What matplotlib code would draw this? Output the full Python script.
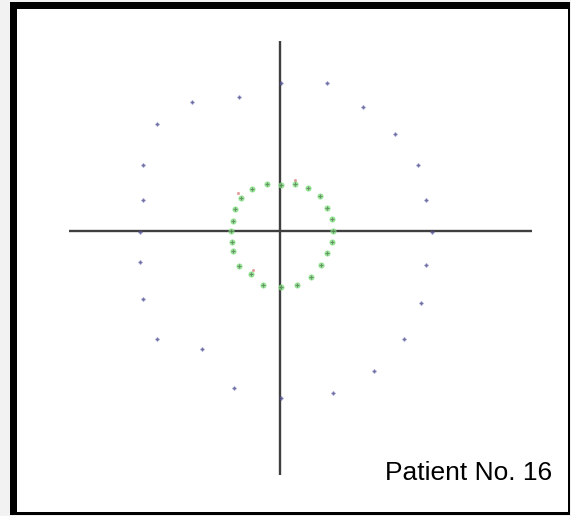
import numpy as np
import matplotlib.pyplot as plt
from matplotlib.patches import Rectangle

# outer test ring (blue), offsets from the fixation point
outer_x = [1, 47, -41, -88, 83, -123, 115, -137, 138, -137, 146, -140,
           152, -140, 146, -137, 141, -123, 124, -78, 94, -46, 53, 1]
outer_y = [148, 148, 134, 129, 124, 107, 97, 66, 66, 31, 31, -1,
           -1, -31, -34, -68, -72, -108, -108, -118, -140, -157, -162, -167]

# inner ring (green)
inner_x = [1, 15, -13, 28, -28, 40, -39, 47, -45, 52, -47, 53,
           -49, 52, -48, 47, -47, 41, -41, 31, -29, 17, -17, 1]
inner_y = [46, 47, 47, 43, 42, 35, 33, 23, 22, 12, 10, 0,
           0, -11, -11, -22, -20, -34, -35, -46, -43, -54, -54, -56]

# stray red responses
red_x = [-42, -27, 15]
red_y = [38, -39, 51]

patient_label = 'Patient No. 16'

W, H = 571, 516
fig = plt.figure(figsize=(W / 100, H / 100), dpi=100)
fig.patch.set_facecolor('#f2f2f2')


def px_rect(x0, y0, x1, y1, color):
    return Rectangle((x0 / W, 1 - y1 / H), (x1 - x0) / W, (y1 - y0) / H,
                     transform=fig.transFigure, facecolor=color,
                     edgecolor='none', zorder=-2)


# panel frame: heavy black on left/top, thin on right/bottom
fig.patches.append(px_rect(10, 2, 570, 515, '#000000'))
fig.patches.append(px_rect(17, 9, 568, 512, '#ffffff'))

ax = fig.add_axes([0, 0, 1, 1])
ax.set_xlim(-280, 291)
ax.set_ylim(-285, 231)
ax.axis('off')
ax.patch.set_alpha(0)

# cross hairs
ax.plot([-211, 252], [0, 0], color='#3f3f3f', lw=1.7, solid_capstyle='butt')
ax.plot([0, 0], [-244, 190], color='#3f3f3f', lw=1.7, solid_capstyle='butt')

ax.plot(outer_x, outer_y, 'o', color='#6a6ab0', ms=2.8, mew=0, alpha=0.55)
ax.plot(outer_x, outer_y, '+', color='#2a2a70', ms=2.5, mew=0.6, alpha=0.5)

ax.plot(inner_x, inner_y, 'o', color='#7ee07e', ms=4.4, mew=0, alpha=0.8)
ax.plot(inner_x, inner_y, '+', color='#4a5a4a', ms=2.8, mew=0.8, alpha=0.6)
ax.plot(red_x, red_y, 'o', color='#d06060', ms=2.2, mew=0, alpha=0.6)

fig.text(552 / W, 1 - 480 / H, patient_label, ha='right', va='baseline',
         fontsize=19, family=['Liberation Sans', 'DejaVu Sans'], color='black')

fig.savefig('out.png', dpi=100, facecolor=fig.get_facecolor())
